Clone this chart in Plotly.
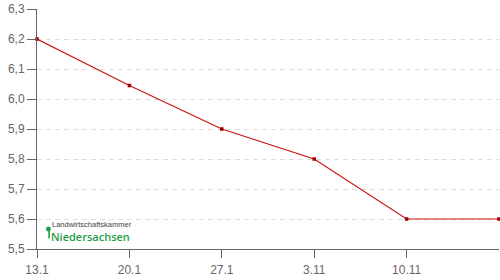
import plotly.graph_objects as go

categories = ["13.1", "20.1", "27.1", "3.11", "10.11", ""]
values = [6.2, 6.045, 5.9, 5.8, 5.6, 5.6]
y_ticks = [5.5, 5.6, 5.7, 5.8, 5.9, 6.0, 6.1, 6.2, 6.3]

xs = list(range(len(categories)))

fig = go.Figure()
fig.add_trace(go.Scatter(
    x=xs, y=values, mode="lines+markers",
    line=dict(color="#cc1111", width=1.2),
    marker=dict(symbol="square", size=3.5, color="#a00000"),
    cliponaxis=False, hoverinfo="skip",
))

axis_font = dict(family="Liberation Sans, Arial, sans-serif", size=12, color="#666666")

fig.update_layout(
    width=500, height=280,
    margin=dict(l=37, r=1, t=9, b=31),
    paper_bgcolor="white", plot_bgcolor="white",
    separators=",.",
    showlegend=False,
    xaxis=dict(
        range=[0, 5], tickmode="array", tickvals=xs[:5], ticktext=categories[:5],
        showgrid=False, zeroline=False, showline=True, linecolor="#666666", linewidth=1,
        ticks="outside", ticklen=8, tickcolor="#666666", tickfont=axis_font,
        ticklabelstandoff=2,
    ),
    yaxis=dict(
        range=[5.5, 6.3], tickmode="array", tickvals=y_ticks,
        tickformat=".1f", showgrid=True, gridcolor="#dddddd", gridwidth=1, griddash="5px,4px",
        zeroline=False, showline=True, linecolor="#666666", linewidth=1,
        ticks="outside", ticklen=9, tickcolor="#666666", tickfont=axis_font,
    ),
)

green = "#1f9e4c"
fig.add_shape(type="circle", xref="paper", yref="paper",
              x0=0.0195, x1=0.0300, y0=0.073, y1=0.094,
              fillcolor=green, line=dict(width=0))
fig.add_shape(type="line", xref="paper", yref="paper",
              x0=0.0262, x1=0.0262, y0=0.083, y1=0.044,
              line=dict(color=green, width=1.6))
fig.add_annotation(xref="paper", yref="paper", x=0.030, y=0.103,
                   xanchor="left", yanchor="middle", showarrow=False, borderpad=0,
                   text="Landwirtschaftskammer",
                   font=dict(family="Liberation Sans, Arial, sans-serif", size=7.5, color="#444444"))
fig.add_annotation(xref="paper", yref="paper", x=0.029, y=0.053,
                   xanchor="left", yanchor="middle", showarrow=False, borderpad=0,
                   text="Niedersachsen",
                   font=dict(family="Open Sans, Liberation Sans, sans-serif", size=11,
                             weight=600, color=green))

fig.write_html("out.html")
